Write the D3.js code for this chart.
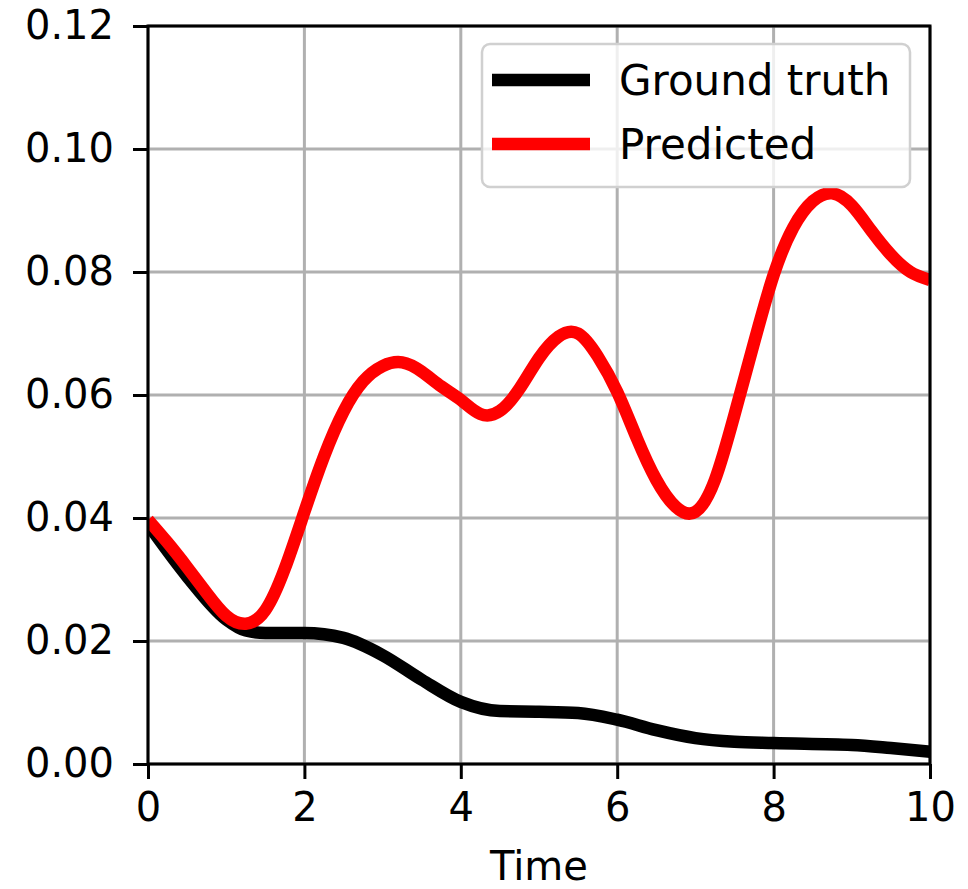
<!DOCTYPE html>
<html>
<head>
<meta charset="utf-8">
<script src="https://cdn.jsdelivr.net/npm/d3@7"></script>
<style>
  body { margin: 0; background: #fff; }
  text { font-family: "DejaVu Sans", sans-serif; fill: #000; }
</style>
</head>
<body>
<svg id="chart" width="968" height="889"></svg>
<script>
// values
var truthTime = [0, 0.5, 1, 1.25, 1.5, 2, 2.5, 3, 3.5, 4, 4.5, 5, 5.5, 6, 6.5, 7, 7.5, 8, 9, 9.5, 10];
var truthVals = [0.039, 0.0305, 0.0235, 0.0217, 0.0213, 0.0213, 0.0205, 0.0177, 0.0137, 0.0101, 0.0086, 0.0085, 0.0083, 0.0072, 0.0055, 0.0042, 0.0036, 0.0034, 0.0031, 0.0026, 0.002];

var predTime = [0, 0.25, 0.5, 0.75, 1, 1.25, 1.5, 1.75, 2, 2.25, 2.5, 2.75, 3, 3.25, 3.5, 3.75, 4, 4.25, 4.5, 4.75,
                5, 5.25, 5.5, 5.75, 6, 6.25, 6.5, 6.75, 7, 7.25, 7.5, 7.75, 8, 8.25, 8.5, 8.75, 9, 9.25, 9.5, 9.75, 10];
var predVals = [0.0397, 0.0360, 0.0320, 0.0278, 0.0241, 0.0228, 0.0250, 0.0318, 0.0410, 0.0500, 0.0573, 0.0622, 0.0647, 0.0653, 0.0638, 0.0614, 0.0592, 0.0569, 0.0574, 0.0610,
                0.0660, 0.0695, 0.0700, 0.0663, 0.0605, 0.0530, 0.0462, 0.0418, 0.0410, 0.0462, 0.0568, 0.0685, 0.0795, 0.0872, 0.0915, 0.0928, 0.0908, 0.0867, 0.0828, 0.0800, 0.0787];

var xTicks = [0, 2, 4, 6, 8, 10];
var yTicks = [0, 0.02, 0.04, 0.06, 0.08, 0.10, 0.12];
var legendLabels = ["Ground truth", "Predicted"];
var colors = ["#000000", "#ff0000"];

var svg = d3.select("#chart"),
    margin = {top: 26, left: 148, bottom: 125, right: 38},
    width = 968,
    height = 889;

var x = d3.scaleLinear().domain([0, 10]).range([margin.left, width - margin.right]);
var y = d3.scaleLinear().domain([0, 0.12]).range([height - margin.bottom, margin.top]);

// grid
svg.append("g").selectAll("line").data(xTicks).enter().append("line")
    .attr("x1", d => x(d)).attr("x2", d => x(d))
    .attr("y1", y(0.12)).attr("y2", y(0))
    .attr("stroke", "#b0b0b0").attr("stroke-width", 3);
svg.append("g").selectAll("line").data(yTicks).enter().append("line")
    .attr("y1", d => y(d)).attr("y2", d => y(d))
    .attr("x1", x(0)).attr("x2", x(10))
    .attr("stroke", "#b0b0b0").attr("stroke-width", 3);

svg.append("clipPath").attr("id", "clip").append("rect")
    .attr("x", x(0)).attr("y", y(0.12))
    .attr("width", x(10) - x(0)).attr("height", y(0) - y(0.12));

var curves = [d3.curveMonotoneX, d3.curveNatural];

var series = [
    truthTime.map((t, i) => [x(t), y(truthVals[i])]),
    predTime.map((t, i) => [x(t), y(predVals[i])])
];

svg.append("g").attr("clip-path", "url(#clip)")
    .selectAll("path").data(series).enter().append("path")
    .attr("d", (d, i) => d3.line().curve(curves[i])(d))
    .attr("fill", "none")
    .attr("stroke", (d, i) => colors[i])
    .attr("stroke-width", 12.5)
    .attr("stroke-linejoin", "round");

// axes
var xAxis = svg.append("g")
    .attr("transform", `translate(0,${y(0)})`)
    .call(d3.axisBottom(x).tickValues(xTicks).tickFormat(d3.format("d")).tickSize(15).tickPadding(14).tickSizeOuter(0));
var yAxis = svg.append("g")
    .attr("transform", `translate(${x(0)},0)`)
    .call(d3.axisLeft(y).tickValues(yTicks).tickFormat(d3.format(".2f")).tickSize(15).tickPadding(19).tickSizeOuter(0));

[xAxis, yAxis].forEach(function(g) {
    g.select(".domain").remove();
    g.selectAll(".tick line").attr("stroke", "#000").attr("stroke-width", 3);
    g.selectAll(".tick text").style("font-size", "40px").style("font-family", "DejaVu Sans").attr("fill", "#000");
});

// frame
svg.append("rect")
    .attr("x", x(0)).attr("y", y(0.12))
    .attr("width", x(10) - x(0)).attr("height", y(0) - y(0.12))
    .attr("fill", "none").attr("stroke", "#000").attr("stroke-width", 3);

svg.append("text")
    .attr("x", (x(0) + x(10)) / 2).attr("y", 880)
    .attr("text-anchor", "middle")
    .style("font-size", "40px")
    .text("Time");

// legend
var legend = svg.append("g");
legend.append("rect")
    .attr("x", 482).attr("y", 44).attr("width", 428).attr("height", 143)
    .attr("rx", 8).attr("ry", 8)
    .attr("fill", "#fff").attr("fill-opacity", 0.8)
    .attr("stroke", "#d0d0d0").attr("stroke-width", 2.5);

var posY = 80;
for (var k = 0; k < legendLabels.length; k++) {
    legend.append("line")
        .attr("x1", 492).attr("x2", 590).attr("y1", posY).attr("y2", posY)
        .attr("stroke", colors[k]).attr("stroke-width", 12.5);
    legend.append("text")
        .attr("x", 619).attr("y", posY + 15)
        .style("font-size", "42px")
        .text(legendLabels[k]);
    posY += 64;
}
</script>
</body>
</html>
